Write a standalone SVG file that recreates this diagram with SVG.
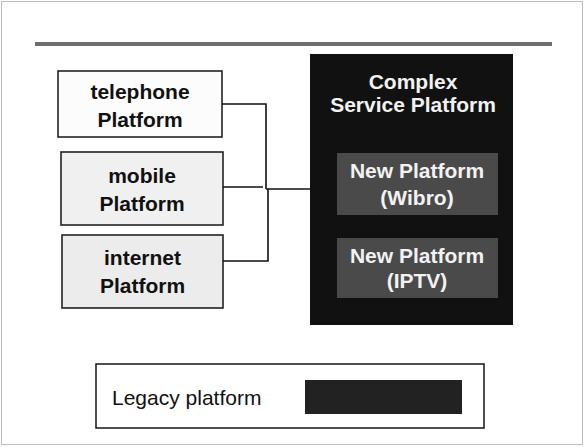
<svg xmlns="http://www.w3.org/2000/svg" width="585" height="447" viewBox="0 0 585 447">
<style>
.bg{fill:#ffffff}
.frame{fill:none;stroke:#7a7a7a;stroke-width:1;stroke-dasharray:1 1}
.box{stroke:#222;stroke-width:1.6}
.lt{font-family:"Liberation Sans",Arial,sans-serif;font-weight:bold;font-size:21px;fill:#111;text-anchor:middle}
.wt{font-family:"Liberation Sans",Arial,sans-serif;font-weight:bold;font-size:21px;fill:#f2f2f2;text-anchor:middle}
.conn{fill:none;stroke:#111;stroke-width:1.6}
</style>
<rect class="bg" x="0" y="0" width="585" height="447"/>
<rect class="frame" x="1.5" y="1.5" width="581" height="443"/>
<rect x="35" y="42" width="517" height="4" fill="#6e6e6e"/>

<g id="telephone">
<rect class="box" x="58" y="71" width="164" height="66" fill="#fcfcfc"/>
<text class="lt" x="140" y="99">telephone</text>
<text class="lt" x="140" y="127">Platform</text>
</g>
<g id="mobile">
<rect class="box" x="61" y="152" width="162" height="73" fill="#f0f0f0"/>
<text class="lt" x="142" y="183">mobile</text>
<text class="lt" x="142" y="211">Platform</text>
</g>
<g id="internet">
<rect class="box" x="62" y="235" width="161" height="73" fill="#ececec"/>
<text class="lt" x="142.5" y="265">internet</text>
<text class="lt" x="142.5" y="293">Platform</text>
</g>

<g id="connectors">
<polyline class="conn" points="222,104 266,104 266,189"/>
<polyline class="conn" points="268,189 268,261 223,261"/>
<line class="conn" x1="223" y1="187" x2="263" y2="187"/>
<line class="conn" x1="266" y1="189" x2="310" y2="189"/>
</g>

<g id="complex">
<rect x="310" y="54" width="203" height="271" fill="#111"/>
<text class="wt" x="413" y="89">Complex</text>
<text class="wt" x="413" y="112">Service Platform</text>
</g>
<g id="wibro">
<rect x="337" y="153" width="161" height="62" fill="#4a4a4a"/>
<text class="wt" x="417" y="178">New Platform</text>
<text class="wt" x="417" y="205">(Wibro)</text>
</g>
<g id="iptv">
<rect x="337" y="238" width="161" height="60" fill="#4a4a4a"/>
<text class="wt" x="417" y="263">New Platform</text>
<text class="wt" x="417" y="288">(IPTV)</text>
</g>

<g id="legend">
<rect x="96" y="364" width="388" height="64" fill="#fff" stroke="#222" stroke-width="1.6"/>
<text x="112" y="405" font-family="'Liberation Sans',Arial,sans-serif" font-size="21px" fill="#111">Legacy platform</text>
<rect x="305" y="380" width="157" height="34" fill="#222"/>
</g>
</svg>
